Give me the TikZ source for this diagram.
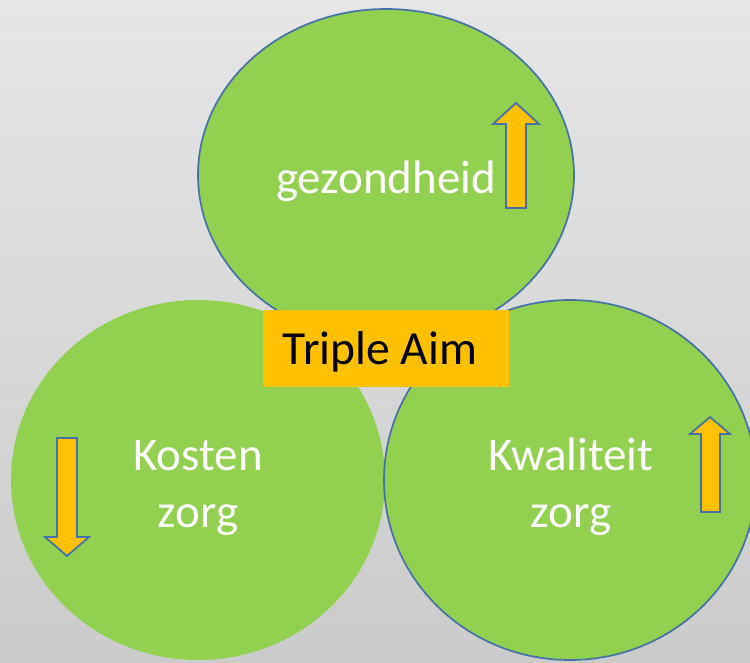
\documentclass[tikz,border=0pt]{standalone}
\usepackage{fontspec}
\setmainfont{Carlito}
\usetikzlibrary{shapes.geometric}
\definecolor{bggtop}{HTML}{E6E6E6}
\definecolor{bggbot}{HTML}{CBCBCB}
\definecolor{leaf}{HTML}{92D050}
\definecolor{gold}{HTML}{FFC000}
\definecolor{rim}{HTML}{4472A8}
\tikzset{
  blob/.style={ellipse, fill=leaf, inner sep=0pt},
  rimmed/.style={draw=rim, line width=1.7pt},
  lbl/.style={text=white, font=\fontsize{47}{57}\selectfont, align=center, anchor=base},
  blockarrow/.style={fill=gold, draw=rim, line width=1.8pt, line join=miter},
  aimbox/.style={fill=gold, minimum width=246pt, minimum height=77pt, inner sep=0pt, anchor=north west}
}
\begin{document}
\begin{tikzpicture}[x=1pt,y=-1pt]
\useasboundingbox (0,0) rectangle (750,662);
\clip (0,0) rectangle (750,662);
\shade[top color=bggtop, bottom color=bggbot] (0,0) rectangle (750,662);
% circles
\node[blob, rimmed, minimum width=376pt, minimum height=332pt] (top) at (386,175) {};
\node[blob, minimum width=374pt, minimum height=360pt] (left) at (198,480) {};
\node[blob, rimmed, minimum width=372pt, minimum height=360pt] (right) at (570,480) {};
% box
\node[aimbox] (aim) at (263,310) {};
\node[anchor=base, font=\fontsize{47.5}{57}\selectfont, text=black] (aimtxt) at (380,364) {Triple Aim};
% labels
\node[lbl] (gez) at (386,193) {gezondheid};
\node[lbl] (kos1) at (198,470) {Kosten};
\node[lbl] (kos2) at (198,527) {zorg};
\node[lbl] (kwa1) at (571,470) {Kwaliteit};
\node[lbl] (kwa2) at (571,527) {zorg};
% arrows
\draw[blockarrow] (506,208) -- (506,124) -- (493,124) -- (516,103) -- (539,124) -- (526,124) -- (526,208) -- cycle;
\draw[blockarrow] (57,438) -- (57,537) -- (45,537) -- (67,556) -- (89,537) -- (77,537) -- (77,438) -- cycle;
\draw[blockarrow] (701,512) -- (701,434) -- (690,434) -- (710,417) -- (730,434) -- (720,434) -- (720,512) -- cycle;
\end{tikzpicture}
\end{document}
